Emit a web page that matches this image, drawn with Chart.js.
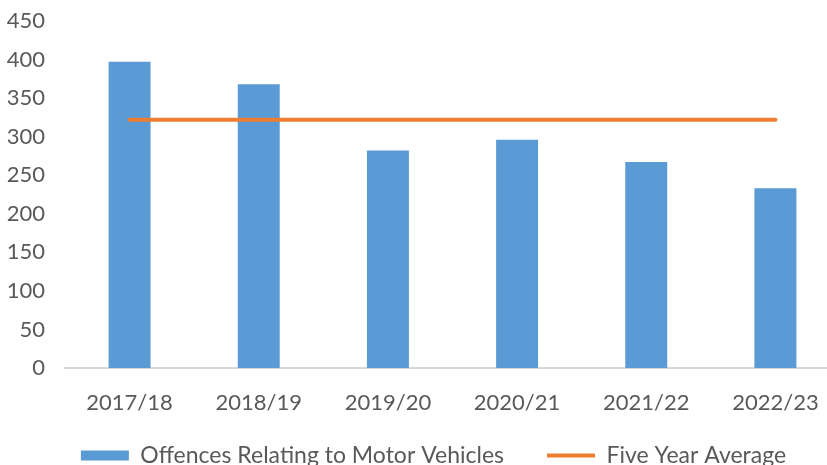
<!DOCTYPE html>
<html>
<head>
<meta charset="utf-8">
<script src="https://cdn.jsdelivr.net/npm/chart.js@4/dist/chart.umd.min.js"></script>
<style>
  html, body { margin: 0; padding: 0; background: #fff; overflow: hidden; }
  #wrap { position: relative; width: 842px; height: 499px; }
</style>
</head>
<body>
<div id="wrap"><canvas id="myChart"></canvas></div>
<script>
// values
var years = ['2017/18', '2018/19', '2019/20', '2020/21', '2021/22', '2022/23'];
var offences = [397, 368, 282, 296, 267, 233];
var fiveYearAverage = [322, 322, 322, 322, 322, 322];
var yTicks = [0, 50, 100, 150, 200, 250, 300, 350, 400, 450];

var textColor = '#595959';
var tickFont = { family: 'Lato, "Liberation Sans", sans-serif', size: 22 };
var legendFont = { family: 'Lato, "Liberation Sans", sans-serif', size: 23 };

// move the legend a little, the way the original sits under the plot
var legendNudge = {
	id: 'legendNudge',
	afterLayout: function(chart) {
		var lg = chart.legend;
		lg.left += 10; lg.right += 10;
		lg.top -= 22; lg.bottom -= 22;
	}
};

var ctx = document.getElementById('myChart').getContext('2d');
var chart = new Chart(ctx, {
	type: 'bar',
	data: {
		labels: years,
		datasets: [
			{
				type: 'bar',
				label: 'Offences Relating to Motor Vehicles',
				data: offences,
				backgroundColor: '#5B9BD5',
				borderWidth: 0,
				categoryPercentage: 1,
				barPercentage: 0.325,
				pointStyle: 'rect',
				order: 2
			},
			{
				type: 'line',
				label: 'Five Year Average',
				data: fiveYearAverage,
				borderColor: '#ED7D31',
				backgroundColor: '#ED7D31',
				borderWidth: 4,
				borderCapStyle: 'round',
				pointRadius: 0,
				pointStyle: 'line',
				fill: false,
				order: 1
			}
		]
	},
	options: {
		responsive: true,
		maintainAspectRatio: false,
		animation: false,
		layout: { padding: { left: 7, right: 2, top: 21, bottom: 0 } },
		scales: {
			x: {
				grid: { display: false, drawTicks: false },
				border: { display: true, color: '#D9D9D9', width: 2 },
				ticks: { color: textColor, font: tickFont, padding: 22, maxRotation: 0 },
				afterFit: function(axis) { axis.height = 55; }
			},
			y: {
				min: 0,
				max: 450,
				afterBuildTicks: function(axis) {
					axis.ticks = yTicks.map(function(v) { return { value: v }; });
				},
				grid: { display: false, drawTicks: false },
				border: { display: false },
				ticks: { color: textColor, font: tickFont, padding: 20 },
				afterFit: function(axis) {
					axis.width = 58;
					axis.paddingTop = 0;
					axis.paddingBottom = 0;
				}
			}
		},
		plugins: {
			tooltip: { enabled: false },
			legend: {
				position: 'bottom',
				labels: {
					color: textColor,
					font: legendFont,
					usePointStyle: true,
					pointStyleWidth: 48,
					boxHeight: 10,
					padding: 43,
					sort: function(a, b) { return a.datasetIndex - b.datasetIndex; }
				}
			}
		}
	},
	plugins: [legendNudge]
});
</script>
</body>
</html>
